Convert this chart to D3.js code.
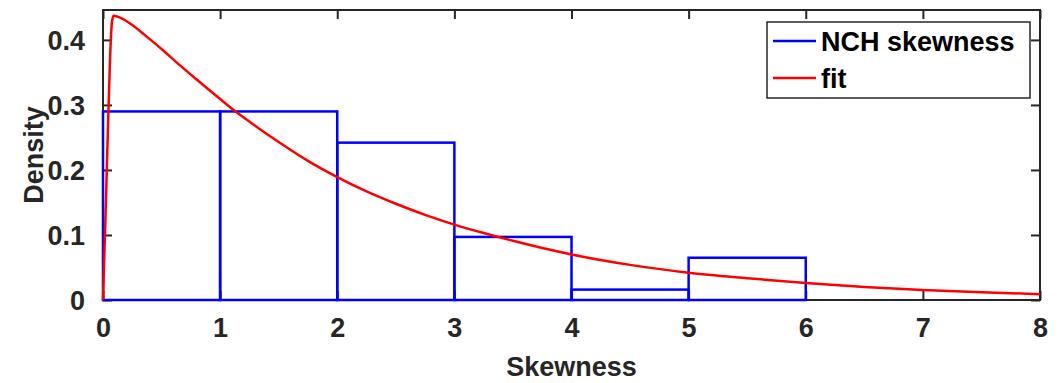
<!DOCTYPE html>
<html>
<head>
<meta charset="utf-8">
<script src="https://cdn.jsdelivr.net/npm/d3@7"></script>
<style>
    body { margin: 0; background: #fff; }
    text { font-family: "Liberation Sans", Arial, sans-serif; font-weight: bold; }
</style>
</head>
<body>
<div id="chart"></div>
<script>
// histogram of skewness (density normalised), bin edges 0..6
const binEdges = [0, 1, 2, 3, 4, 5, 6];
const binDensity = [0.290, 0.290, 0.242, 0.097, 0.016, 0.065];

// fitted density
const fitX = [0, 0.02, 0.04, 0.06, 0.075, 0.09, 0.15, 0.25, 0.36, 0.5, 0.65, 0.8, 1.0, 1.11, 1.26,
    1.5, 1.75, 2.0, 2.25, 2.5, 2.75, 3.0, 3.25, 3.5, 3.75, 4.0, 4.5, 5.0, 5.5, 6.0, 6.5, 7.0, 7.5, 8.0];
const fitY = [0, 0.12, 0.25, 0.37, 0.425, 0.437, 0.434, 0.423, 0.407, 0.386, 0.362, 0.339, 0.309, 0.293, 0.273,
    0.243, 0.214, 0.189, 0.167, 0.148, 0.131, 0.116, 0.103, 0.091, 0.080, 0.070, 0.054, 0.042, 0.0335, 0.026, 0.020, 0.0155, 0.012, 0.009];

const xTicks = [0, 1, 2, 3, 4, 5, 6, 7, 8];
const yTicks = [0, 0.1, 0.2, 0.3, 0.4];
const legendLabels = ["NCH skewness", "fit"];
const legendColors = ["#0000ff", "#ff0000"];

const W = 1064, H = 383;
const plot = { left: 103, right: 1040, top: 10, bottom: 300 };
const axisColor = "#262626";
const tickLen = 9;

const svg = d3.select("#chart")
    .append("svg")
    .attr("width", W)
    .attr("height", H);

const x = d3.scaleLinear().domain([0, 8]).range([plot.left, plot.right]);
const y = d3.scaleLinear().domain([0, 0.446]).range([plot.bottom, plot.top]);

// axes (ticks point inward, mirrored on top/right)
const xAxis = d3.axisBottom(x).tickValues(xTicks).tickSizeInner(-tickLen).tickSizeOuter(0).tickPadding(tickLen + 9);
const xAxisTop = d3.axisTop(x).tickValues(xTicks).tickSizeInner(-tickLen).tickSizeOuter(0).tickFormat("");
const yAxis = d3.axisLeft(y).tickValues(yTicks).tickSizeInner(-tickLen).tickSizeOuter(0).tickPadding(tickLen + 9)
    .tickFormat(d => d === 0 ? "0" : d.toFixed(1));
const yAxisRight = d3.axisRight(y).tickValues(yTicks).tickSizeInner(-tickLen).tickSizeOuter(0).tickFormat("");

function styleAxis(g) {
    g.select(".domain").remove();
    g.selectAll("line").attr("stroke", axisColor).attr("stroke-width", 2);
    g.selectAll("text").attr("fill", axisColor).style("font-size", "27px").style("font-family", null);
}

svg.append("g").attr("transform", `translate(0,${plot.bottom})`).call(xAxis).call(styleAxis);
svg.append("g").attr("transform", `translate(0,${plot.top})`).call(xAxisTop).call(styleAxis);
svg.append("g").attr("transform", `translate(${plot.left},0)`).call(yAxis).call(styleAxis)
    .selectAll("text").attr("dy", "0.36em");
svg.append("g").attr("transform", `translate(${plot.right},0)`).call(yAxisRight).call(styleAxis);

svg.append("rect")
    .attr("x", plot.left)
    .attr("y", plot.top)
    .attr("width", plot.right - plot.left)
    .attr("height", plot.bottom - plot.top)
    .attr("fill", "none")
    .attr("stroke", axisColor)
    .attr("stroke-width", 2);

// histogram bars
svg.append("g")
    .selectAll("rect")
    .data(binDensity)
    .enter()
    .append("rect")
    .attr("x", (d, i) => x(binEdges[i]))
    .attr("y", d => y(d))
    .attr("width", (d, i) => x(binEdges[i + 1]) - x(binEdges[i]))
    .attr("height", d => y(0) - y(d))
    .attr("fill", "none")
    .attr("stroke", legendColors[0])
    .attr("stroke-width", 2.5);

// fit curve
const fitData = fitX.map((v, i) => [v, fitY[i]]);
const line = d3.line()
    .x(d => x(d[0]))
    .y(d => y(d[1]))
    .curve(d3.curveMonotoneX);

svg.append("path")
    .datum(fitData)
    .attr("d", line)
    .attr("fill", "none")
    .attr("stroke", legendColors[1])
    .attr("stroke-width", 2.5);

// axis labels
svg.append("text")
    .attr("x", (plot.left + plot.right) / 2)
    .attr("y", 376)
    .attr("text-anchor", "middle")
    .attr("fill", axisColor)
    .style("font-size", "27px")
    .text("Skewness");

svg.append("text")
    .attr("transform", `translate(43,${(plot.top + plot.bottom) / 2}) rotate(-90)`)
    .attr("text-anchor", "middle")
    .attr("fill", axisColor)
    .style("font-size", "27px")
    .text("Density");

// legend
const legend = svg.append("g").attr("transform", "translate(767,22)");

legend.append("rect")
    .attr("width", 263)
    .attr("height", 76)
    .attr("fill", "#fff")
    .attr("stroke", axisColor)
    .attr("stroke-width", 1.5);

const items = legend.selectAll("g.item")
    .data(legendLabels)
    .enter()
    .append("g")
    .attr("class", "item")
    .attr("transform", (d, i) => `translate(0,${19 + i * 37})`);

items.append("line")
    .attr("x1", 6)
    .attr("x2", 49)
    .attr("stroke", (d, i) => legendColors[i])
    .attr("stroke-width", 2.5);

items.append("text")
    .attr("x", 54)
    .attr("dy", "0.36em")
    .attr("fill", "#000")
    .style("font-size", "27px")
    .text(d => d);
</script>
</body>
</html>
